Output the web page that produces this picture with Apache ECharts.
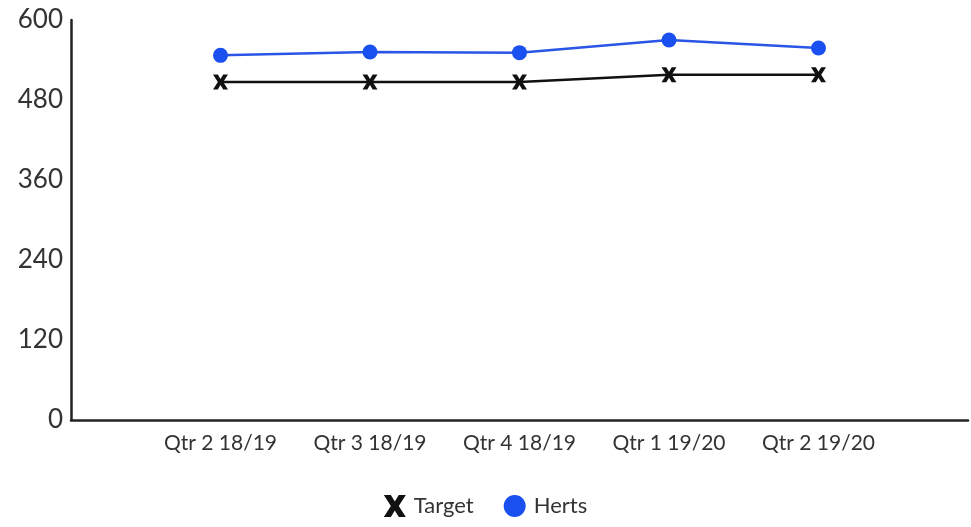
<!DOCTYPE html>
<html>
<head>
<meta charset="utf-8">
<script src="https://cdn.jsdelivr.net/npm/echarts@6/dist/echarts.min.js"></script>
<style>
  html, body { margin: 0; padding: 0; background: #ffffff; }
  #chart { width: 971px; height: 527px; }
</style>
</head>
<body>
<div id="chart"></div>
<script>
  // blank slots at both ends keep the quarters away from the axis ends
  const quarters = ['', 'Qtr 2 18/19', 'Qtr 3 18/19', 'Qtr 4 18/19', 'Qtr 1 19/20', 'Qtr 2 19/20', '']
  const targetValues = ['-', 507, 507, 507, 518, 518, '-']
  const hertsValues = ['-', 547, 552, 551, 570, 558, '-']
  const yTicks = [0, 120, 240, 360, 480, 600]

  const crossPath = 'path://M0,0 L3.2,0 L5,3 L6.8,0 L10,0 L6.8,5 L10,10 L6.8,10 L5,7 L3.2,10 L0,10 L3.2,5 Z'
  const font = 'Lato, "Open Sans", sans-serif'

  const chart = echarts.init(document.getElementById('chart'))
  const option = {
    animation: false,
    textStyle: { fontFamily: font },
    grid: { left: 71, right: 2, top: 20, bottom: 107 },
    legend: {
      bottom: 5,
      left: 'center',
      itemGap: 30,
      itemWidth: 28,
      itemHeight: 22,
      textStyle: { fontSize: 22, color: '#333', fontFamily: font },
      data: [
        { name: 'Target', icon: crossPath, itemStyle: { color: '#111' } },
        { name: 'Herts', icon: 'circle', itemStyle: { color: '#1a4ff0' } }
      ]
    },
    xAxis: {
      type: 'category',
      boundaryGap: false,
      data: quarters,
      axisLine: { lineStyle: { color: '#222', width: 2.5 } },
      axisTick: { show: false },
      axisLabel: { interval: 0, margin: 13, fontSize: 21, color: '#333', fontFamily: font },
      splitLine: { show: false }
    },
    yAxis: {
      type: 'value',
      min: yTicks[0],
      max: yTicks[yTicks.length - 1],
      interval: yTicks[1] - yTicks[0],
      axisLine: { show: true, lineStyle: { color: '#222', width: 2.5 } },
      axisTick: { show: false },
      axisLabel: { margin: 8, fontSize: 26, color: '#333', fontFamily: font },
      splitLine: { show: false }
    },
    series: [
      {
        name: 'Target',
        type: 'line',
        data: targetValues,
        symbol: crossPath,
        symbolSize: 15,
        showAllSymbol: true,
        lineStyle: { color: '#111', width: 2.5 },
        itemStyle: { color: '#111' }
      },
      {
        name: 'Herts',
        type: 'line',
        data: hertsValues,
        symbol: 'circle',
        symbolSize: 15,
        showAllSymbol: true,
        lineStyle: { color: '#2b55e6', width: 2.5 },
        itemStyle: { color: '#1a4ff0' }
      }
    ]
  }
  chart.setOption(option)
</script>
</body>
</html>
